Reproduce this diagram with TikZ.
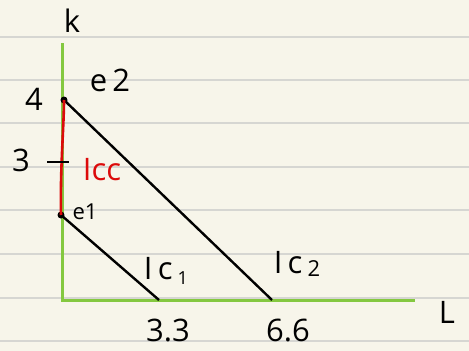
\documentclass[tikz,border=0pt]{standalone}
\usepackage{fontspec}
\setmainfont{Open Sans}
\definecolor{paper}{RGB}{247,245,234}
\definecolor{ruleline}{RGB}{214,214,210}
\definecolor{axisgreen}{RGB}{132,200,64}
\definecolor{curvered}{RGB}{220,10,10}
\begin{document}
\begin{tikzpicture}[x=1pt,y=-1pt,
  ruled/.style={ruleline,line width=1.6pt},
  axisline/.style={axisgreen,line width=3pt},
  budget/.style={black,line width=2.4pt},
  redcurve/.style={curvered,line width=2.6pt},
  lbl/.style={inner sep=0pt,font=\fontsize{31}{33}\selectfont},
  small/.style={inner sep=0pt,font=\fontsize{22}{24}\selectfont},
  dot/.style={circle,fill=black,inner sep=0pt,minimum size=7pt}]
\fill[paper] (0,0) rectangle (469,351);
\useasboundingbox (0,0) rectangle (469,351);
\foreach \yy in {37,80,123,167,210,254,298,341}
  \draw[ruled] (0,\yy) -- (469,\yy);
% coordinates
\coordinate (ytop) at (62,43);
\coordinate (O) at (62,300);
\coordinate (xend) at (415,300);
\coordinate (a1) at (159,300);
\coordinate (a2) at (272,300);
\coordinate (t1) at (47,162);
\coordinate (t2) at (69,162);
% axes
\draw[axisline] (ytop) -- (O) -- (xend);
% budget lines
\node[dot] (e2) at (64,100) {};
\node[dot] (e1) at (61,215) {};
\draw[budget] (e2.center) -- (a2);
\draw[budget] (e1.center) -- (a1);
% red curve
\draw[redcurve] (e1.center) .. controls (60,170) and (64,125) .. (e2.center);
% tick
\draw[budget] (t1) -- (t2);
% labels
\node[lbl] (k) at (72,21) {k};
\node[lbl] (L) at (447,312) {L};
\node[lbl] (four) at (34,99) {4};
\node[lbl] (three) at (21,160) {3};
\node[lbl] (e2l) at (110,80) {e\,2};
\node[small] (e1l) at (85,212) {e1};
\node[lbl,text=curvered] (icc) at (102,170) {Icc};
\node[lbl] (ic1) at (166,271) {I\,c\,\raisebox{-0.35ex}{\fontsize{18}{20}\selectfont 1}};
\node[lbl] (ic2) at (297,264) {I\,c\,\raisebox{-0.2ex}{\fontsize{22}{24}\selectfont 2}};
\node[lbl] (v33) at (168,330) {3.3};
\node[lbl] (v66) at (288,330) {6.6};
\end{tikzpicture}
\end{document}
